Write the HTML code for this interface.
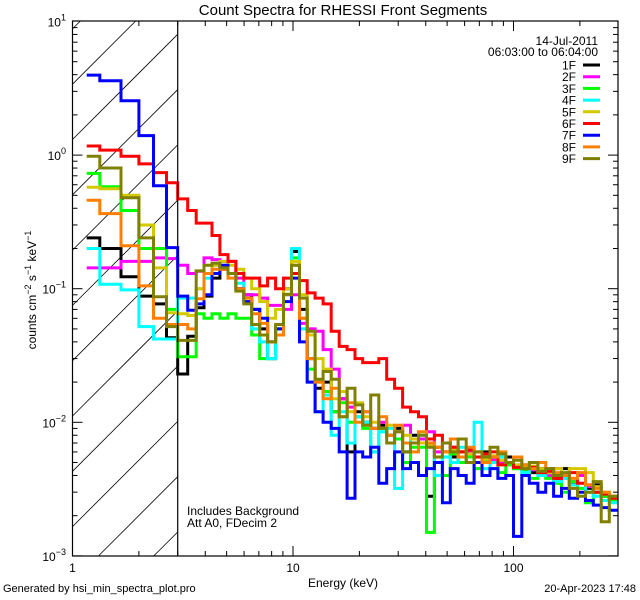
<!DOCTYPE html>
<html><head><meta charset="utf-8"><style>
html,body{margin:0;padding:0;background:#fff;width:640px;height:600px;overflow:hidden;}
svg{display:block;font-family:"Liberation Sans",sans-serif;overflow:hidden;}
</style></head><body>
<svg id="chart" width="640" height="600" viewBox="0 0 640 600" xmlns="http://www.w3.org/2000/svg">
<rect width="640" height="600" fill="#fff"/>
<text x="343" y="15" font-size="15" text-anchor="middle">Count Spectra for RHESSI Front Segments</text>
<defs><clipPath id="plotclip"><rect x="72.5" y="21" width="545.5" height="535"/></clipPath></defs>
<g id="hatch"></g>
<g id="series" clip-path="url(#plotclip)"></g>
<g id="axes"></g>
<text x="343" y="587" font-size="12" text-anchor="middle">Energy (keV)</text>
<text transform="translate(36,290) rotate(-90)" font-size="12" text-anchor="middle">counts cm<tspan dy="-5" font-size="9">−2</tspan><tspan dy="5"> s</tspan><tspan dy="-5" font-size="9">−1</tspan><tspan dy="5"> keV</tspan><tspan dy="-5" font-size="9">−1</tspan></text>
<text x="187" y="515" font-size="12">Includes Background</text>
<text x="187" y="527" font-size="12">Att A0, FDecim 2</text>
<text x="598" y="45" font-size="12" text-anchor="end">14-Jul-2011</text>
<text x="598" y="56" font-size="12" text-anchor="end">06:03:00 to 06:04:00</text>
<g id="legend"></g>
<text x="3" y="592" font-size="11">Generated by hsi_min_spectra_plot.pro</text>
<text x="636" y="592" font-size="11" text-anchor="end">20-Apr-2023 17:48</text>
</svg>
<script>
const energyEdges = [1.16,1.33,1.66,2.0,2.33,2.67,3.0,3.33,3.64,3.95,4.29,4.66,5.07,5.51,5.98,6.50,7.06,7.67,8.34,9.06,9.84,10.7,11.6,12.6,13.7,14.9,16.2,17.6,19.1,20.7,22.5,24.5,26.6,28.9,31.4,34.1,37.1,40.3,43.8,47.6,51.7,56.1,61.0,66.3,72.0,78.2,85.0,92.3,100,109,118,129,140,152,165,179,195,212,230,250,272,296];
const seriesNames = ["1F","2F","3F","4F","5F","6F","7F","8F","9F"];
const seriesColors = ["#000000","#ff00ff","#00ff00","#00ffff","#d4c800","#ff0000","#0000ff","#ff8000","#808000"];
const s1F = [.24,.20,.123,.088,.077,.043,.023,.044,.072,.088,.12,.14,.13,.10,.09,.07,.05,.03,.045,.10,.19,.07,.03,.018,.02,.012,.015,.006,.012,.01,.009,.0095,.008,.009,.006,.008,.0075,.0028,.0065,.006,.0055,.006,.005,.0055,.006,.0052,.005,.0055,.0045,.0048,.0042,.0045,.004,.0038,.0045,.0035,.004,.0032,.0034,.0028,.0027];
const s2F = [.143,.143,.16,.16,.17,.168,.15,.13,.135,.17,.165,.16,.16,.12,.09,.09,.085,.075,.075,.07,.09,.055,.05,.048,.035,.025,.015,.013,.011,.012,.009,.01,.008,.0085,.0095,.007,.0075,.0085,.006,.006,.0065,.0055,.006,.005,.0055,.0052,.005,.0048,.0046,.0045,.0044,.0042,.004,.0045,.0038,.0036,.004,.0033,.003,.0029,.0027];
const s3F = [.73,.58,.385,.2,.2,.07,.031,.031,.065,.06,.065,.06,.065,.06,.06,.045,.03,.03,.05,.09,.17,.06,.025,.02,.017,.012,.014,.01,.011,.009,.006,.0085,.008,.0075,.005,.0065,.0065,.0015,.0055,.004,.0058,.005,.0055,.0045,.0052,.005,.0042,.0048,.0045,.0043,.0038,.0042,.0038,.0035,.003,.0036,.0032,.0025,.003,.0028,.0026];
const s4F = [.2,.108,.098,.052,.042,.042,.085,.085,.1,.12,.15,.15,.13,.11,.08,.05,.04,.03,.05,.12,.2,.05,.02,.012,.016,.008,.012,.007,.011,.01,.006,.0085,.009,.0032,.007,.0075,.008,.007,.004,.0055,.005,.0065,.005,.01,.0045,.005,.0055,.005,.0048,.0042,.0045,.004,.0042,.0036,.0038,.0034,.0035,.003,.0028,.0026,.0025];
const s5F = [.575,.56,.5,.3,.143,.066,.065,.063,.1,.13,.15,.16,.15,.14,.12,.1,.08,.06,.07,.1,.16,.09,.045,.03,.025,.015,.017,.012,.014,.011,.01,.009,.0095,.0085,.008,.0075,.007,.0068,.0065,.006,.0062,.006,.0058,.0055,.0053,.0056,.0052,.005,.0048,.0046,.0047,.0045,.0042,.0045,.004,.0045,.0045,.0042,.0033,.003,.0028];
const s6F = [1.17,1.09,.98,.86,.74,.62,.47,.385,.31,.31,.25,.18,.16,.13,.12,.12,.105,.12,.10,.12,.13,.115,.093,.085,.077,.048,.037,.035,.03,.028,.028,.03,.021,.018,.013,.012,.011,.0075,.008,.007,.0065,.006,.0062,.0055,.0058,.006,.0048,.005,.0046,.0045,.0046,.0042,.0043,.0038,.004,.0042,.0035,.0034,.003,.0029,.0027];
const s7F = [3.97,3.6,2.55,1.4,.59,.203,.088,.069,.077,.09,.13,.15,.13,.1,.08,.07,.06,.04,.05,.08,.12,.04,.02,.012,.01,.009,.006,.0027,.006,.0055,.0065,.0035,.0045,.006,.0045,.005,.004,.0045,.005,.0025,.0045,.004,.0035,.005,.004,.0045,.0038,.004,.0014,.004,.0035,.003,.0035,.0028,.0032,.0027,.003,.0026,.0024,.0023,.0022];
const s8F = [.46,.365,.21,.105,.06,.054,.054,.05,.084,.13,.14,.14,.12,.1,.085,.065,.055,.04,.045,.09,.15,.06,.03,.02,.015,.018,.011,.014,.01,.012,.009,.011,.008,.0095,.007,.006,.0085,.007,.0065,.006,.0075,.0055,.0065,.006,.005,.0055,.006,.005,.0055,.0048,.0045,.005,.0045,.0042,.004,.0038,.0042,.0034,.0032,.003,.0028];
const s9F = [.98,.8,.48,.24,.087,.052,.041,.041,.136,.15,.155,.143,.13,.096,.077,.054,.045,.04,.054,.091,.15,.085,.048,.021,.024,.021,.011,.018,.0135,.0095,.016,.009,.007,.0085,.006,.007,.008,.0065,.0055,.007,.006,.0075,.005,.006,.0055,.0065,.0058,.005,.0052,.0045,.005,.0043,.0045,.004,.0042,.0032,.0028,.003,.0036,.0018,.0028];
const allSeries = [s1F,s2F,s3F,s4F,s5F,s6F,s7F,s8F,s9F];
const xTickLabels = ["1","10","100"];
const yTickExps = ["1","0","−1","−2","−3"];

const NS = "http://www.w3.org/2000/svg";
const X0 = 72.5, XDEC = 220.5, XR = 618, YT = 21, YB = 556, YDEC = 133.6, YTOP = 21.5;
function xs(e){ return X0 + XDEC*Math.log10(e); }
function ys(v){ return YTOP + YDEC*(1 - Math.log10(v)); }
function mk(tag, attrs, parent){ const el=document.createElementNS(NS,tag); for(const k in attrs) el.setAttribute(k,attrs[k]); parent.appendChild(el); return el; }

const hatch = document.getElementById('hatch');
const HX1 = X0, HX2 = xs(3);
for(let c=101.4; c<760; c+=55.3){
  const xa = Math.max(HX1, c-YB), xb = Math.min(HX2, c-YT);
  if(xb <= xa) continue;
  const ln = mk('line',{x1:xa,y1:c-xa,x2:xb,y2:c-xb,stroke:'#000','stroke-width':0.8},hatch);
  
  
}

const sg = document.getElementById('series');
allSeries.forEach((vals,si)=>{
  const n = Math.min(vals.length, energyEdges.length-1);
  let d = '';
  for(let i=0;i<n;i++){
    const y = Math.min(YB, Math.max(YT, ys(vals[i]))).toFixed(1);
    const xa = xs(energyEdges[i]).toFixed(1), xb = Math.min(XR, xs(energyEdges[i+1])).toFixed(1);
    d += (i===0 ? 'M'+xa+','+y : 'L'+xa+','+y) + 'L'+xb+','+y;
  }
  const p = mk('path',{d:d,fill:'none',stroke:seriesColors[si],'stroke-width':3,'stroke-linejoin':'miter'},sg);
  
  
});

const ax = document.getElementById('axes');
const frame = mk('rect',{x:X0,y:YT,width:XR-X0,height:YB-YT,fill:'none',stroke:'#000','stroke-width':1.2},ax);


const v3 = mk('line',{x1:xs(3),y1:YT,x2:xs(3),y2:YB,stroke:'#000','stroke-width':1.2},ax);


for(let dec=0; dec<3; dec++){
  for(let m=1;m<10;m++){
    const e = m*Math.pow(10,dec); if(e>298) break;
    const x = xs(e), len = m===1?10:5;
    const t1 = mk('line',{x1:x,y1:YB,x2:x,y2:YB-len,stroke:'#000','stroke-width':1},ax);
    
    
    const t2 = mk('line',{x1:x,y1:YT,x2:x,y2:YT+len,stroke:'#000','stroke-width':1},ax);
    
    
  }
}
xTickLabels.forEach((lab,i)=>{
  const t = mk('text',{x:xs(Math.pow(10,i)),y:572,'font-size':12,'text-anchor':'middle'},ax);
  t.textContent = lab;
  
  
});
for(let ex=-3; ex<1; ex++){
  for(let m=1;m<10;m++){
    const y = ys(m*Math.pow(10,ex)), len = m===1?10:5;
    const t1 = mk('line',{x1:X0,y1:y,x2:X0+len,y2:y,stroke:'#000','stroke-width':1},ax);
    
    
    const t2 = mk('line',{x1:XR,y1:y,x2:XR-len,y2:y,stroke:'#000','stroke-width':1},ax);
    
    
  }
}
yTickExps.forEach((ex,i)=>{
  const y = ys(Math.pow(10,1-i));
  const t = mk('text',{x:66,y:y+5,'font-size':12,'text-anchor':'end'},ax);
  
  
  const a = document.createElementNS(NS,'tspan'); a.textContent='10'; t.appendChild(a);
  const b = document.createElementNS(NS,'tspan'); b.setAttribute('dy','-6'); b.setAttribute('font-size','9'); b.textContent=ex; t.appendChild(b);
});

const lg = document.getElementById('legend');
seriesNames.forEach((nm,i)=>{
  const y = 65 + i*11.7;
  const t = mk('text',{x:576,y:y+4.5,'font-size':12,'text-anchor':'end'},lg);
  t.textContent = nm;
  
  
  const l = mk('line',{x1:583,y1:y,x2:600,y2:y,stroke:seriesColors[i],'stroke-width':3},lg);
  
  
});
</script>
</body></html>
